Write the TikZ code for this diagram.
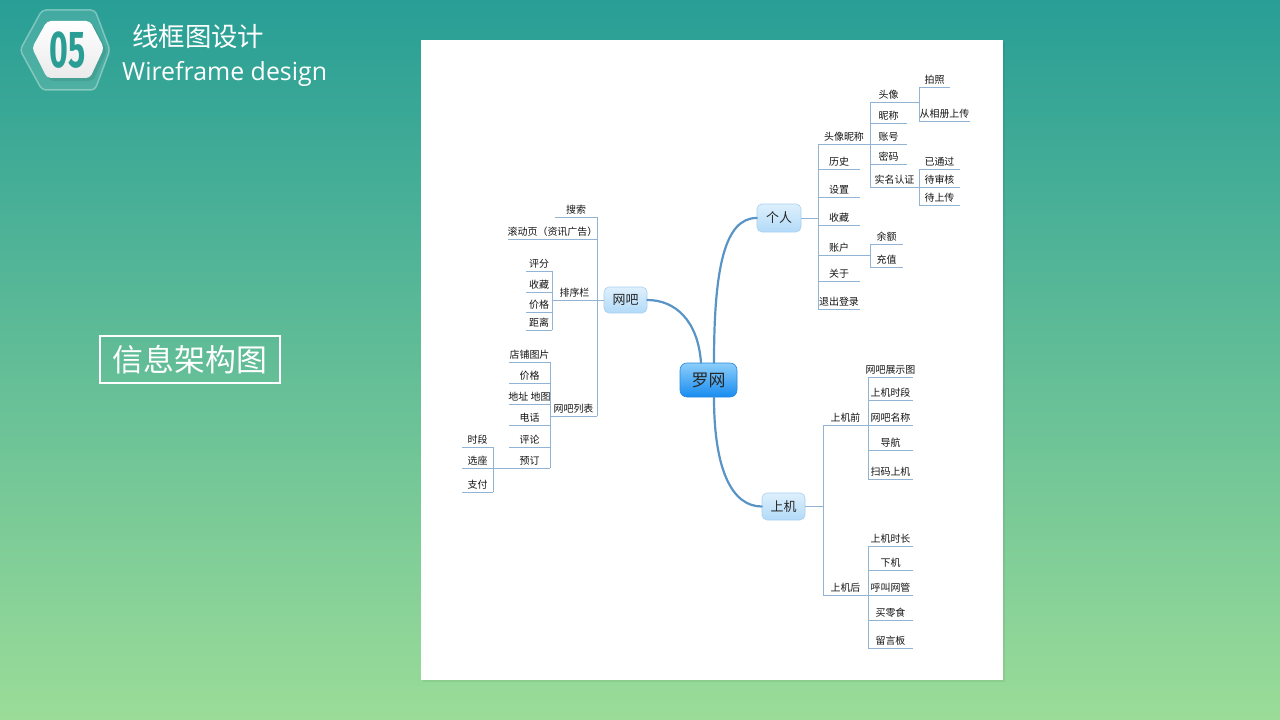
\documentclass[tikz,border=0pt]{standalone}
\usepackage{fontspec}
\setmainfont{Noto Sans CJK SC}
\newfontfamily\cjk{Noto Sans CJK SC}
\newfontfamily\latinf{Open Sans}
\newfontfamily\digitf{Fira Sans}
\usetikzlibrary{calc}
\definecolor{bgtop}{RGB}{40,158,150}
\definecolor{bgbot}{RGB}{155,220,152}
\definecolor{lineblue}{RGB}{146,180,212}
\definecolor{curveblue}{RGB}{88,148,198}
\definecolor{tealnum}{RGB}{42,158,148}
\definecolor{subtop}{RGB}{222,240,253}
\definecolor{subbot}{RGB}{178,218,248}
\definecolor{subdraw}{RGB}{170,208,240}
\definecolor{maintop}{RGB}{140,206,250}
\definecolor{mainbot}{RGB}{24,140,240}
\definecolor{maindraw}{RGB}{40,136,224}
\newcommand\leaffont{\cjk\fontsize{10}{11}\selectfont}
\tikzset{
  ln/.style={draw=lineblue, line width=0.9bp},
  leaf/.style={inner sep=0pt, minimum height=13.5bp, anchor=south, font=\leaffont, text=black!92},
  subtopic/.style={rounded corners=5bp, top color=subtop, bottom color=subbot, draw=subdraw, line width=0.6bp,
     font=\cjk\fontsize{13}{14}\selectfont, text=black!85, inner sep=0pt},
  maintopic/.style={rounded corners=7bp, top color=maintop, bottom color=mainbot, draw=maindraw, line width=0.6bp,
     font=\cjk\fontsize{17}{18}\selectfont, text=black!85, inner sep=0pt, minimum width=57bp, minimum height=34bp},
  curve/.style={draw=curveblue, line width=2.2bp, line cap=round},
}
\newcommand\leaf[5]{%
  \node[leaf] (#1) at ({(#2+#3)/2},#4) {#5};
  \draw[ln] (#2,#4) -- (#3,#4);}
\begin{document}
\begin{tikzpicture}[x=1bp,y=-1bp]
\useasboundingbox (0,0) rectangle (1280,720);
\shade[top color=bgtop, bottom color=bgbot] (0,0) rectangle (1280,720);

% header
\fill[white, fill opacity=0.12] [rounded corners=4bp] (20,50) -- (42,10) -- (95,10) -- (110,50) -- (95,90) -- (42,90) -- cycle;
\draw[white, draw opacity=0.35, line width=1.5bp, rounded corners=4bp] (20,50) -- (42,10) -- (95,10) -- (110,50) -- (95,90) -- (42,90) -- cycle;
\fill[black, fill opacity=0.08, rounded corners=4bp] (35,51) -- (50,24) -- (93,24) -- (107,51) -- (93,81) -- (50,81) -- cycle;
\shade[top color=white, bottom color=black!8, rounded corners=4bp] (32,48) -- (47,21) -- (90,21) -- (104,48) -- (90,78) -- (47,78) -- cycle;
\node[font=\digitf\bfseries\fontsize{52}{52}\selectfont, text=tealnum, inner sep=0pt] (num) at (68,50) {\scalebox{0.62}[1]{05}};
\node[font=\cjk\fontsize{26.5}{28}\selectfont, text=white, anchor=west, inner sep=0pt] (title) at (132,36) {线框图设计};
\node[font=\latinf\fontsize{25}{27}\selectfont, text=white, anchor=base west, inner sep=0pt] (subtitle) at (122,81) {Wireframe design};

% left label
\node[draw=white, line width=1.5bp, text=white, font=\cjk\fontsize{31}{32}\selectfont, minimum width=180bp, minimum height=47bp, inner sep=0pt] (info) at (190,359.5) {信息架构图};

% panel
\fill[black, fill opacity=0.06] (423,42) rectangle (1005,682);
\fill[white] (421,40) rectangle (1003,680);

% topics
\node[maintopic] (lw) at (708.5,380) {罗网};
\node[subtopic, minimum width=44bp, minimum height=28bp] (geren) at (779,218) {个人};
\node[subtopic, minimum width=43bp, minimum height=26bp] (wangba) at (625.5,300) {网吧};
\node[subtopic, minimum width=43bp, minimum height=27bp] (shangji) at (783.5,506.5) {上机};

\draw[curve] ([xshift=5.5bp]lw.north) .. controls +(0,-95) and +(-32,0) .. (geren.west);
\draw[curve] ([xshift=-7.5bp]lw.north) .. controls +(-3,-42) and +(28,0) .. (wangba.east);
\draw[curve] ([xshift=5.5bp]lw.south) .. controls +(0,72) and +(-30,0) .. (shangji.west);

% ---- 个人 branch
\leaf{hxnc}{818}{870}{144}{头像昵称\hspace{14bp}}
\leaf{ls}{818}{860}{169}{历史}
\leaf{sz}{818}{860}{197}{设置}
\leaf{scg}{818}{860}{225}{收藏}
\leaf{zh}{818}{860}{255}{账户}
\leaf{gy}{818}{860}{281}{关于}
\leaf{tcdl}{818}{860}{309}{退出登录}
\leaf{tx}{870}{907}{102}{头像}
\leaf{nc}{870}{907}{123}{昵称}
\leaf{zhh}{870}{907}{144}{账号}
\leaf{mm}{870}{907}{164}{密码}
\leaf{smrz}{870}{919}{187}{实名认证}
\leaf{pz}{919}{950}{87}{拍照}
\leaf{xc}{919}{970}{121}{从相册上传}
\leaf{ytg}{919}{960}{169}{已通过}
\leaf{dsh}{919}{960}{187}{待审核}
\leaf{dsc}{919}{960}{205}{待上传}
\leaf{ye}{870}{903}{244}{余额}
\leaf{cz}{870}{903}{267}{充值}
\draw[ln] (geren.east) -- (geren.east -| 818,0);
\draw[ln] (hxnc.south -| 818,0) -- (tcdl.south -| 818,0);
\draw[ln] (tx.south -| 870,0) -- (smrz.south -| 870,0);
\draw[ln] (tx.south -| 907,0) -- (tx.south -| 919,0);
\draw[ln] (pz.south -| 919,0) -- (xc.south -| 919,0);
\draw[ln] (ytg.south -| 919,0) -- (dsc.south -| 919,0);
\draw[ln] (zh.south -| 860,0) -- (zh.south -| 870,0);
\draw[ln] (ye.south -| 870,0) -- (cz.south -| 870,0);

% ---- 网吧 branch
\leaf{ss}{555}{597}{217}{搜索}
\leaf{gdy}{508}{597}{239}{滚动页（资讯广告）}
\leaf{pxl}{552}{597}{300}{排序栏}
\leaf{wblb}{550}{597}{416}{网吧列表}
\leaf{pf}{526}{552}{271}{评分}
\leaf{scw}{526}{552}{292}{收藏}
\leaf{jg}{526}{552}{312}{价格}
\leaf{jl}{526}{552}{330}{距离}
\leaf{dptp}{509}{550}{362}{店铺图片}
\leaf{jgg}{509}{550}{383}{价格}
\leaf{dz}{509}{550}{404}{地址 地图}
\leaf{dh}{509}{550}{425}{电话}
\leaf{pl}{509}{550}{447}{评论}
\leaf{yd}{509}{550}{468}{预订}
\leaf{sd}{462}{493}{447}{时段}
\leaf{xz}{462}{493}{468}{选座}
\leaf{zf}{462}{493}{492}{支付}
\draw[ln] (wangba.west) -- (wangba.west -| 597,0);
\draw[ln] (ss.south -| 597,0) -- (wblb.south -| 597,0);
\draw[ln] (pf.south -| 552,0) -- (jl.south -| 552,0);
\draw[ln] (dptp.south -| 550,0) -- (yd.south -| 550,0);
\draw[ln] (sd.south -| 493,0) -- (zf.south -| 493,0);
\draw[ln] (xz.south -| 493,0) -- (yd.south -| 509,0);

% ---- 上机 branch
\leaf{sjq}{823}{868}{425}{上机前}
\leaf{sjh}{823}{868}{595}{上机后}
\leaf{wbzst}{868}{913}{377}{网吧展示图}
\leaf{sjsd}{868}{913}{400}{上机时段}
\leaf{wbmc}{868}{913}{425}{网吧名称}
\leaf{dhh}{868}{913}{450}{导航}
\leaf{smsj}{868}{913}{479}{扫码上机}
\leaf{sjsc}{868}{913}{546}{上机时长}
\leaf{xj}{868}{913}{570}{下机}
\leaf{hjwg}{868}{913}{595}{呼叫网管}
\leaf{mls}{868}{913}{620}{买零食}
\leaf{lyb}{868}{913}{648}{留言板}
\draw[ln] (shangji.east) -- (shangji.east -| 823,0);
\draw[ln] (sjq.south -| 823,0) -- (sjh.south -| 823,0);
\draw[ln] (wbzst.south -| 868,0) -- (smsj.south -| 868,0);
\draw[ln] (sjsc.south -| 868,0) -- (lyb.south -| 868,0);
\end{tikzpicture}
\end{document}
